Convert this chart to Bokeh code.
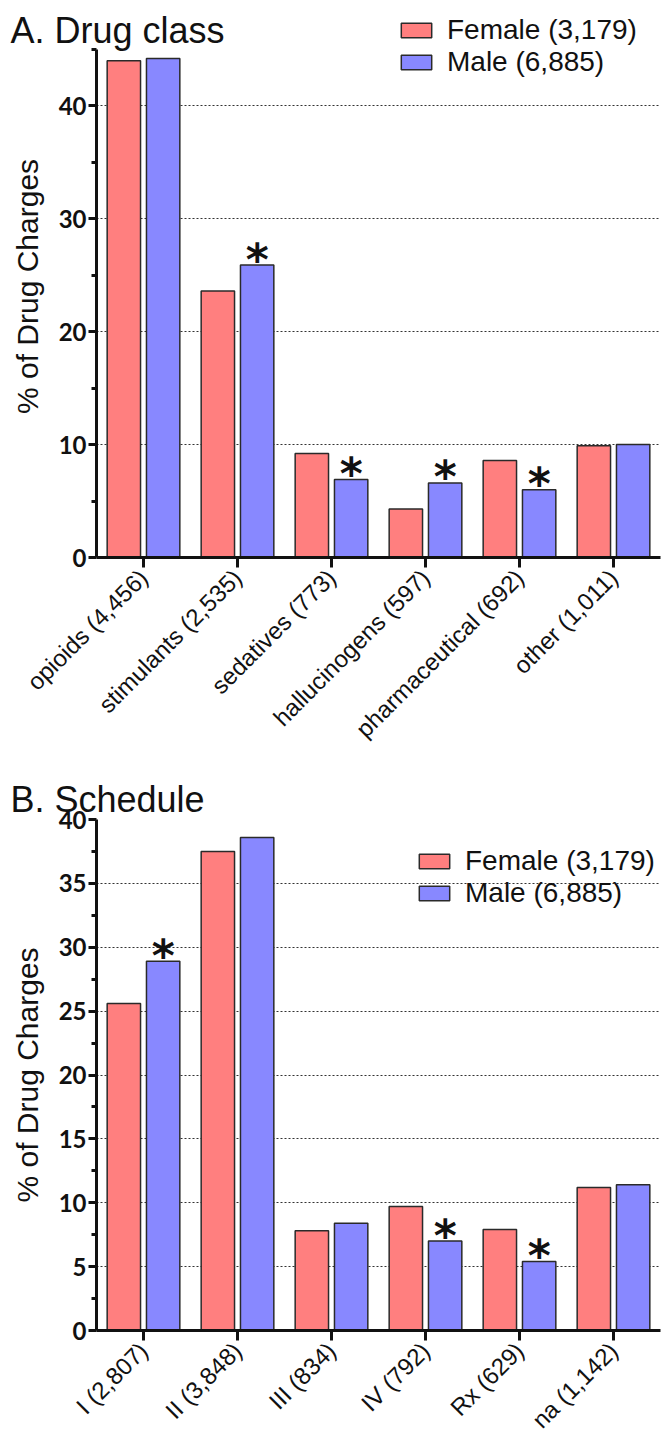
import math
from bokeh.plotting import figure
from bokeh.models import Range1d, FactorRange, FixedTicker, Legend, LegendItem, ColumnDataSource
from bokeh.transform import dodge
from bokeh.layouts import column
from bokeh.embed import file_html
from bokeh.resources import INLINE
from bokeh.core.properties import value

# ---------------- data ----------------
class_categories = ["opioids (4,456)", "stimulants (2,535)", "sedatives (773)",
                    "hallucinogens (597)", "pharmaceutical (692)", "other (1,011)"]
class_female = [44.0, 23.6, 9.2, 4.3, 8.6, 9.9]
class_male = [44.2, 25.9, 6.9, 6.6, 6.0, 10.0]
class_significant = [False, True, True, True, True, False]

schedule_categories = ["I (2,807)", "II (3,848)", "III (834)", "IV (792)", "Rx (629)", "na (1,142)"]
schedule_female = [25.6, 37.5, 7.8, 9.7, 7.9, 11.2]
schedule_male = [28.9, 38.6, 8.4, 7.0, 5.4, 11.4]
schedule_significant = [True, False, False, True, True, False]

class_y_ticks = [0, 10, 20, 30, 40]
class_y_minor = [5, 15, 25, 35, 45]
schedule_y_ticks = [0, 5, 10, 15, 20, 25, 30, 35, 40]
schedule_y_minor = [2.5, 7.5, 12.5, 17.5, 22.5, 27.5, 32.5, 37.5]

female_label = "Female (3,179)"
male_label = "Male (6,885)"
y_label = "% of Drug Charges"

FEMALE_COLOR = "#FF7F7F"
MALE_COLOR = "#8888FF"
EDGE = "#2a2a2a"
TEXT = "#111111"


def make_panel(title, cats, female, male, sig, y_end, axis_top, ticks, minor, top_border,
               bottom_border, frame_h, legend_loc, title_standoff):
    p = figure(x_range=FactorRange(factors=cats, range_padding=0),
               y_range=Range1d(0, y_end),
               frame_width=564, frame_height=frame_h,
               min_border_left=96, min_border_right=2,
               min_border_top=top_border, min_border_bottom=bottom_border,
               output_backend="svg", toolbar_location=None, tools="")
    p.outline_line_color = None
    p.background_fill_color = "white"

    src = ColumnDataSource(dict(cat=cats, female=female, male=male))
    rf = p.vbar(x=dodge("cat", -0.209, range=p.x_range), top="female", width=0.355,
                source=src, fill_color=FEMALE_COLOR, line_color=EDGE, line_width=1.5)
    rm = p.vbar(x=dodge("cat", 0.209, range=p.x_range), top="male", width=0.355,
                source=src, fill_color=MALE_COLOR, line_color=EDGE, line_width=1.5)

    star_src = ColumnDataSource(dict(
        cat=[c for c, s in zip(cats, sig) if s],
        y=[m for m, s in zip(male, sig) if s],
        star=["*" for s in sig if s]))
    p.text(x=dodge("cat", 0.209, range=p.x_range), y="y", text="star", source=star_src,
           text_font=value("DejaVu Sans"), text_font_style="bold", text_font_size="44px",
           text_align="center", text_baseline="alphabetic", y_offset=-6, text_color=TEXT)

    # title
    p.title.text = title
    p.title.text_font = "Liberation Sans"
    p.title.text_font_size = "36px"
    p.title.text_font_style = "normal"
    p.title.text_color = TEXT
    p.title.align = "left"
    p.title.vertical_align = "bottom"
    p.title.offset = -86
    p.title.standoff = title_standoff

    # y axis
    ya = p.yaxis[0]
    ya.bounds = (0, axis_top)
    ya.ticker = FixedTicker(ticks=ticks, minor_ticks=minor)
    ya.axis_line_width = 3
    ya.axis_line_color = TEXT
    ya.major_tick_line_width = 3
    ya.major_tick_line_color = TEXT
    ya.major_tick_out = 8
    ya.major_tick_in = 0
    ya.minor_tick_line_width = 3
    ya.minor_tick_line_color = TEXT
    ya.minor_tick_out = 5
    ya.minor_tick_in = 0
    ya.major_label_text_font = "Lato"
    ya.major_label_text_font_style = "bold"
    ya.major_label_text_font_size = "24px"
    ya.major_label_text_color = TEXT
    ya.major_label_standoff = 2
    ya.axis_label = y_label
    ya.axis_label_text_font = "Liberation Sans"
    ya.axis_label_text_font_style = "normal"
    ya.axis_label_text_font_size = "30px"
    ya.axis_label_text_color = TEXT
    ya.axis_label_standoff = 12

    # x axis
    xa = p.xaxis[0]
    xa.axis_line_width = 3
    xa.axis_line_color = TEXT
    xa.major_tick_line_width = 3
    xa.major_tick_line_color = TEXT
    xa.major_tick_out = 10
    xa.major_tick_in = 0
    xa.minor_tick_line_color = None
    xa.major_label_orientation = math.pi / 4
    xa.major_label_text_font = "Liberation Sans"
    xa.major_label_text_font_size = "24px"
    xa.major_label_text_color = TEXT
    xa.major_label_standoff = 6

    p.xgrid.visible = False
    p.ygrid.ticker = FixedTicker(ticks=ticks)
    p.ygrid.grid_line_color = "#333333"
    p.ygrid.grid_line_dash = "2 2"
    p.ygrid.grid_line_width = 1

    legend = Legend(items=[LegendItem(label=female_label, renderers=[rf]),
                           LegendItem(label=male_label, renderers=[rm])],
                    location=legend_loc)
    legend.padding = 0
    legend.margin = 0
    legend.spacing = 0
    legend.glyph_width = 38
    legend.glyph_height = 18
    legend.label_standoff = 12
    legend.label_text_font = "Liberation Sans"
    legend.label_text_font_size = "28px"
    legend.label_text_color = TEXT
    legend.border_line_color = None
    legend.background_fill_alpha = 0
    p.add_layout(legend)
    return p


# panel A: frame reaches above the axis top so the legend fits inside it
pa = make_panel("A. Drug class", class_categories, class_female, class_male, class_significant,
                48.0, 45, class_y_ticks, class_y_minor, 15, 213, 542, (301, 479), -70)
pb = make_panel("B. Schedule", schedule_categories, schedule_female, schedule_male,
                schedule_significant, 40, 40, schedule_y_ticks, schedule_y_minor, 49, 120, 511,
                (319, 421), 0)

layout = column(pa, pb, spacing=0)
open("out.html", "w").write(file_html(layout, INLINE))
